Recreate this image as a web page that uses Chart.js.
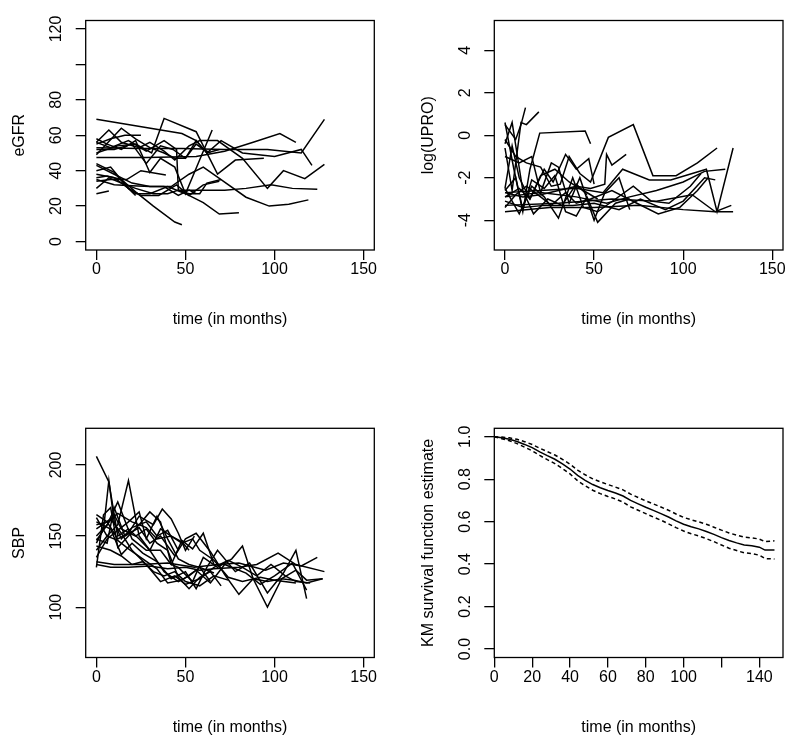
<!DOCTYPE html>
<html>
<head>
<meta charset="utf-8">
<script src="https://cdn.jsdelivr.net/npm/chart.js@4.4.1/dist/chart.umd.min.js"></script>
<style>
  body { margin: 0; background: #fff; }
  #wrap { position: relative; width: 800px; height: 755px; }
  canvas { position: absolute; left: 0; top: 0; }
</style>
</head>
<body>
<div id="wrap">
  <canvas id="egfr" width="800" height="755"></canvas>
  <canvas id="upro" width="800" height="755"></canvas>
  <canvas id="sbp" width="800" height="755"></canvas>
  <canvas id="km" width="800" height="755"></canvas>
</div>
<script>
// ---- data (time in months, value) ----
const egfrLines = [
  [[0,69],[48,61],[56,57],[62,50],[69,52]],
  [[0,53],[24,52.5],[48,52.5],[72,52],[96,52],[115,50],[128,69]],
  [[0,47.5],[28,47.5],[56,48],[72,51],[88,56],[103,61],[112,56]],
  [[0,56],[7,63],[14,56],[24,53],[30,56],[38,51],[44,46],[52,54],[58,57],[68,57],[82,47],[96,30],[105,40],[117,35.5],[128,43.5]],
  [[0,43],[10,38],[20,33],[30,31],[42,31],[52,38],[60,42],[70,35],[84,25],[97,20],[108,21],[119,23.5]],
  [[0,30],[7,36],[14,33],[22,30],[32,27],[40,27],[46,29],[56,29],[72,29],[84,30],[98,32],[110,30],[124,29.5]],
  [[0,40],[8,42],[18,30],[25,26],[35,26],[45,32],[52,26],[60,32],[69,34]],
  [[0,36],[6,37],[14,35],[22,28],[32,20],[44,11],[48,9.5]],
  [[0,38],[10,36],[22,27],[30,27],[40,31],[50,27],[60,22],[69,15.5],[80,16.3]],
  [[0,27],[7,28.5]],
  [[0,34],[8,35],[17,35],[25,40],[39,37.5]],
  [[0,55],[8,58],[16,60],[25,60]],
  [[0,52],[10,52],[20,55],[28,44],[36,54],[43,52],[50,47],[56,57],[62,50],[70,57],[82,50],[100,48],[115,52],[121,43]],
  [[0,56],[8,53],[18,57],[28,51],[38,57],[45,52],[46,29],[52,27],[58,27],[62,33],[70,35]],
  [[0,44],[10,39],[18,30],[22,26]],
  [[0,35],[10,32],[20,31.5],[30,31],[38,31],[46,26],[52,29],[56,27]],
  [[0,49],[14,64],[22,58],[30,53],[38,50],[44,47],[50,47],[56,55],[60,52],[64,50]],
  [[0,58],[6,55],[14,52],[22,57],[30,39],[36,47],[44,42],[50,27],[65,63]],
  [[0,50],[12,54],[22,55],[31,50],[38,69.5],[56,62],[61,52],[68,38],[78,46],[94,47]]
];

const uproLines = [
  [[0,0.5],[6,-0.2],[9,0.5],[11.5,1.3]],
  [[0,-0.6],[4,-2.6],[9,0.6],[12,0.5],[19,1.1]],
  [[0,-2.6],[6,-2],[10,-3.6],[14,-1.6],[19.5,0.1],[45,0.2],[48,-0.4]],
  [[0,-0.2],[6,-1],[12,-1.3],[20,-1.5],[26,-2.4],[31,-2.3],[36,-1.0],[42,-1.8],[48,-2.2],[58,-0.1],[72,0.5],[83,-1.9],[96,-1.9],[108,-1.3],[119,-0.6]],
  [[0,-2.7],[10,-2.9],[20,-2.8],[30,-2.6],[40,-2.4],[48,-2.5],[56,-2.3],[57,-0.9],[60,-1.4],[68,-0.9]],
  [[0,-2.7],[20,-2.6],[40,-2.5],[55,-2.7],[66,-1.6],[81,-2.1],[93,-2.1],[113,-1.6],[116,-2.6],[119,-3.6],[128,-0.6]],
  [[0,-3.6],[25,-3.4],[50,-3.4],[75,-3.3],[100,-3.5],[118,-3.6],[128,-3.6]],
  [[0,-3.3],[30,-3.2],[60,-3.0],[85,-3.1],[105,-2.8],[118,-3.6],[127,-3.3]],
  [[0,-2.9],[20,-2.7],[40,-2.9],[57,-3.2],[70,-2.9],[85,-2.6],[100,-2.2],[112,-1.7],[123.6,-1.6]],
  [[0,-3.1],[10,-3.4],[22,-3.3],[38,-3.3],[50,-3.2],[64,-3.5],[76,-3.0],[90,-3.5],[100,-3.1],[112,-2.0],[118,-2.1]],
  [[0,-2.5],[8,-3.7],[15,-2.4],[22,-2.9],[30,-3.9],[38,-2.0],[44,-3.4],[52,-3.6],[62,-3.0],[72,-2.4],[82,-3.1],[92,-3.2],[104,-2.4],[110,-1.8]],
  [[0,0.6],[5,-1.6],[10,-3.5],[15,-2.1],[22,-2.5],[28,-1.9],[34,-3.6],[40,-3.8],[46,-2.9],[52,-4.1],[62,-3.2],[70,-3.0]],
  [[0,-1.0],[8,-1.3],[15,-1.0],[20,-2.7],[26,-1.3],[30,-1.5],[36,-3.2],[42,-2.0],[50,-4.0],[56,-2.7],[64,-2.0],[70,-3.5]],
  [[0,-2.9],[8,-2.5],[14,-3.0],[22,-1.6],[27,-2.2],[34,-0.9],[40,-1.6],[47,-1.1],[50,-2.3]],
  [[0,-3.4],[6,-2.8],[12,-2.4],[20,-2.9],[26,-3.3],[34,-2.7],[40,-3.2],[48,-3.0],[60,-2.6],[74,-3.2],[86,-3.7],[98,-3.4],[108,-2.6],[114,-2.0]],
  [[0,-2.5],[4,-0.5],[8,-2.0],[14,-3.0],[20,-1.9],[28,-1.6],[36,-2.2],[44,-2.6],[52,-3.0]],
  [[0,-0.4],[4,0.6],[10,-2.6],[16,-3.7],[24,-3.0],[32,-3.3],[40,-2.3],[46,-2.8]]
];

const sbpLines = [
  [[0,206],[7,188],[12,150],[18,155],[24,148],[30,140],[38,125],[46,118],[52,122],[58,128],[66,124]],
  [[0,145],[4,155],[7,189],[10,160],[14,148],[20,156],[28,160],[34,150],[40,154],[46,140]],
  [[0,140],[6,150],[12,158],[18,189],[24,150],[30,140],[36,155],[42,150],[48,146],[52,140]],
  [[0,165],[6,160],[12,148],[18,152],[24,164],[32,158],[37,169],[42,162],[46,152],[50,140],[55,150]],
  [[0,130],[8,128],[18,128],[30,129],[40,127],[50,128],[58,126],[66,127],[80,128],[90,130],[102,138],[112,130],[128,125]],
  [[0,132],[10,130],[25,130],[40,131],[55,128],[68,130],[80,131],[95,126],[105,131],[115,129],[124,135]],
  [[0,160],[8,155],[14,137],[20,145],[26,138],[34,132],[42,120],[50,125],[56,113],[62,128],[68,140],[78,125],[86,131],[96,110],[105,124],[112,140],[118,106]],
  [[0,148],[6,145],[10,170],[16,150],[24,156],[30,145],[36,150],[44,136],[50,148],[56,152],[64,139],[72,123],[80,109],[88,120],[96,100],[104,120],[111,119],[118,117],[127,120]],
  [[0,147],[10,165],[14,155],[22,150],[28,155],[34,145],[40,140],[46,121],[52,113],[58,121],[64,125],[70,115]],
  [[0,128],[4,165],[8,170],[12,142],[18,150],[24,158],[30,167],[36,160],[42,130],[46,128],[54,118],[60,135],[68,128],[76,134],[82,143],[88,120],[96,118],[104,120],[112,126],[118,119],[127,120]],
  [[0,155],[8,162],[14,152],[20,140],[28,130],[36,118],[44,122],[50,116],[58,120],[66,128],[74,133],[82,128],[90,122],[98,130],[106,122],[112,118],[120,117]],
  [[0,163],[6,150],[12,147],[18,141],[26,134],[34,127],[40,117],[48,119],[56,126],[64,117],[72,130],[84,124],[92,116],[100,122],[110,131],[118,112]],
  [[0,158],[6,160],[12,166],[20,160],[28,156],[34,148],[42,150],[48,145],[54,148],[58,140],[66,133],[74,121],[82,118],[92,121],[100,119],[112,117]],
  [[0,135],[6,148],[12,154],[18,160],[24,167],[28,148],[34,164],[40,148],[46,134],[52,130],[58,128],[64,118]],
  [[0,143],[8,140],[14,136],[20,130],[26,132],[32,125],[38,122],[44,125],[50,118],[58,115],[66,122],[74,119]],
  [[0,150],[6,158],[12,174],[20,148],[28,140],[36,140],[42,130],[48,147],[54,141],[60,152],[66,130]]
];

const kmTime  = [0,4,8,12,16,20,24,28,32,36,40,44,48,52,56,60,64,68,72,76,80,84,88,92,96,100,104,108,112,116,120,124,128,132,136,140,143,148];
const kmSurv  = [1.000,0.995,0.988,0.978,0.964,0.949,0.929,0.911,0.894,0.872,0.848,0.818,0.795,0.775,0.760,0.747,0.735,0.721,0.700,0.684,0.668,0.653,0.638,0.622,0.604,0.588,0.576,0.566,0.554,0.540,0.525,0.511,0.500,0.490,0.487,0.480,0.466,0.466];
const kmUpper = [1.000,0.999,0.995,0.988,0.977,0.964,0.946,0.930,0.914,0.894,0.871,0.843,0.821,0.802,0.788,0.775,0.763,0.750,0.730,0.714,0.698,0.684,0.669,0.654,0.636,0.620,0.609,0.599,0.588,0.574,0.560,0.547,0.536,0.527,0.524,0.518,0.506,0.510];
const kmLower = [1.000,0.991,0.981,0.968,0.951,0.934,0.912,0.892,0.874,0.850,0.825,0.793,0.769,0.748,0.732,0.719,0.707,0.692,0.670,0.654,0.638,0.622,0.607,0.590,0.572,0.556,0.543,0.533,0.520,0.506,0.490,0.475,0.464,0.453,0.450,0.442,0.426,0.424];

// tick values
const timeTicks = [0, 50, 100, 150];
const kmTimeTicks = [0, 20, 40, 60, 80, 100, 120, 140];
const egfrTicks = [0, 20, 40, 60, 80, 100, 120];
const uproTicks = [-4, -2, 0, 2, 4];
const sbpTicks = [100, 150, 200];
const kmTicks = [0, 0.2, 0.4, 0.6, 0.8, 1.0];

// ---- drawing ----
const FONT_FAMILY = '"Liberation Sans", Arial, Helvetica, sans-serif';
Chart.defaults.font.family = FONT_FAMILY;
Chart.defaults.font.size = 16;
Chart.defaults.color = '#000';

// box around the plot region + vertical y tick labels like base R
function rBox(yLabel) {
  return {
    id: 'rBox',
    afterDraw(chart) {
      const ctx = chart.ctx;
      const a = chart.chartArea;
      const y = chart.scales.y;
      ctx.save();
      ctx.strokeStyle = '#000';
      ctx.lineWidth = 1.3;
      ctx.strokeRect(a.left, a.top, a.right - a.left, a.bottom - a.top);
      ctx.fillStyle = '#000';
      ctx.font = '16px ' + FONT_FAMILY;
      ctx.textAlign = 'center';
      ctx.textBaseline = 'middle';
      y.ticks.forEach(t => {
        const lab = yLabel(t.value);
        if (!lab) return;
        ctx.save();
        ctx.translate(a.left - 28.7, y.getPixelForValue(t.value));
        ctx.rotate(-Math.PI / 2);
        ctx.fillText(lab, 0, 0);
        ctx.restore();
      });
      ctx.restore();
    }
  };
}

const tickGrid = { drawOnChartArea: false, drawTicks: true, tickLength: 10, color: '#000', lineWidth: 1.3 };

function toSeries(lines) {
  return lines.map(pts => ({
    data: pts.map(p => ({ x: p[0], y: p[1] })),
    borderColor: '#000',
    borderWidth: 1.5,
    pointRadius: 0,
    tension: 0,
    fill: false
  }));
}

function drawPanel(id, datasets, p) {
  new Chart(document.getElementById(id), {
    type: 'line',
    data: { datasets: datasets },
    options: {
      responsive: false,
      animation: false,
      devicePixelRatio: 1,
      layout: { padding: p.pad },
      plugins: { legend: { display: false }, tooltip: { enabled: false } },
      scales: {
        x: {
          type: 'linear',
          min: p.xMin, max: p.xMax,
          afterBuildTicks: s => { s.ticks = p.xTicks.map(v => ({ value: v })); },
          afterFit: s => { s.height = 80; },
          grid: tickGrid,
          border: { display: false },
          ticks: { padding: 0, autoSkip: false, maxRotation: 0, callback: v => p.xLabel(v) },
          title: { display: true, text: 'time (in months)', padding: { top: 0, bottom: 0.5 } }
        },
        y: {
          type: 'linear',
          min: p.yMin, max: p.yMax,
          afterBuildTicks: s => { s.ticks = p.yTicks.map(v => ({ value: v })); },
          afterFit: s => { s.width = 85.7; },
          grid: tickGrid,
          border: { display: false },
          ticks: { display: false },
          title: { display: true, text: p.yTitle, padding: { top: 10.4, bottom: 0 } }
        }
      }
    },
    plugins: [rBox(p.yLabel)]
  });
}

const topPad = { top: 20.5, bottom: 425 };
const botPad = { top: 428.3, bottom: 17.5 };
const leftPad = { left: 0, right: 425.7 };
const rightPad = { left: 408.6, right: 17 };

drawPanel('egfr', toSeries(egfrLines), {
  pad: { ...topPad, ...leftPad },
  xMin: -6, xMax: 156, xTicks: timeTicks, xLabel: v => String(v),
  yMin: -4.8, yMax: 124.8, yTicks: egfrTicks, yTitle: 'eGFR',
  yLabel: v => (v === 100 ? '' : String(v))
});

drawPanel('upro', toSeries(uproLines), {
  pad: { ...topPad, ...rightPad },
  xMin: -6, xMax: 156, xTicks: timeTicks, xLabel: v => String(v),
  yMin: -5.4, yMax: 5.4, yTicks: uproTicks, yTitle: 'log(UPRO)',
  yLabel: v => String(v)
});

drawPanel('sbp', toSeries(sbpLines), {
  pad: { ...botPad, ...leftPad },
  xMin: -6, xMax: 156, xTicks: timeTicks, xLabel: v => String(v),
  yMin: 64.6, yMax: 225.8, yTicks: sbpTicks, yTitle: 'SBP',
  yLabel: v => String(v)
});

// Kaplan-Meier curve with dashed confidence band
const kmSets = [kmSurv, kmUpper, kmLower].map((vals, i) => ({
  data: kmTime.map((t, j) => ({ x: t, y: vals[j] })),
  borderColor: '#000',
  borderWidth: 1.5,
  borderDash: i === 0 ? [] : [4, 3],
  pointRadius: 0,
  tension: 0,
  fill: false
}));

drawPanel('km', kmSets, {
  pad: { ...botPad, ...rightPad },
  xMin: 0, xMax: 152.5, xTicks: kmTimeTicks, xLabel: v => (v === 120 ? '' : String(v)),
  yMin: -0.04, yMax: 1.04, yTicks: kmTicks, yTitle: 'KM survival function estimate',
  yLabel: v => v.toFixed(1)
});
</script>
</body>
</html>
